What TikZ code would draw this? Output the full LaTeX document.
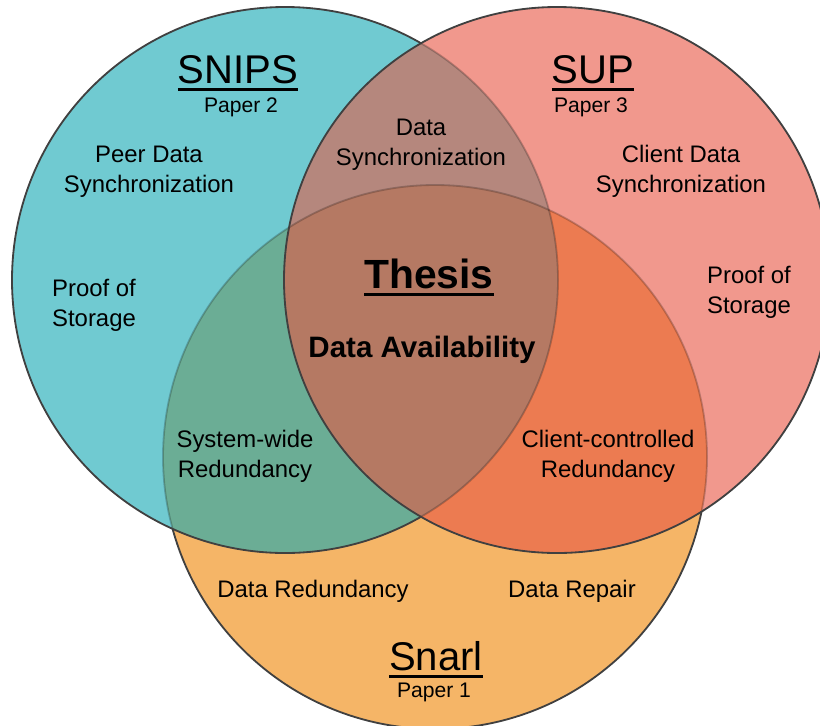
\documentclass[tikz,border=0pt]{standalone}
\usepackage{fontspec}
\setmainfont{Liberation Sans}
\definecolor{snipsc}{HTML}{70CAD1}
\definecolor{supc}{HTML}{F1988D}
\definecolor{snarlc}{HTML}{F5B567}
\definecolor{snipsnarl}{HTML}{6BAD95}
\definecolor{snipsup}{HTML}{B5877D}
\definecolor{supsnarl}{HTML}{EC7B51}
\definecolor{allc}{HTML}{B57963}
\newcommand{\cSnips}{(285,280) circle[radius=273]}
\newcommand{\cSup}{(557,280) circle[radius=273]}
\newcommand{\cSnarl}{(435,457) circle[radius=272]}
\newcommand{\thickul}[1]{\setbox0\hbox{#1}\rlap{\rule[-6pt]{\wd0}{2.8pt}}\box0}
\begin{document}
\begin{tikzpicture}[x=0.025cm,y=-0.025cm,line join=round]
	\tikzset{rim/.style={draw=black!75,line width=1.3pt},
		faint/.style={draw=black,draw opacity=0.22,line width=1.3pt},
		title/.style={font=\fontsize{28.5}{34}\selectfont,anchor=base},
		paper/.style={font=\fontsize{15}{18}\selectfont,anchor=base},
		topic/.style={font=\fontsize{17}{21.3}\selectfont,align=center,anchor=base}}
	\useasboundingbox (0,0) rectangle (820,725);
	% Snarl lies lowest
	\fill[snarlc] \cSnarl;
	\draw[rim] \cSnarl;
	% SNIPS
	\fill[snipsc] \cSnips;
	\begin{scope}
		\clip \cSnips;
		\fill[snipsnarl] \cSnarl;
		\draw[faint] \cSnarl;
	\end{scope}
	\draw[rim] \cSnips;
	% SUP on top
	\fill[supc] \cSup;
	\begin{scope}
		\clip \cSup;
		\fill[supsnarl] \cSnarl;
		\fill[snipsup] \cSnips;
		\begin{scope}
			\clip \cSnips;
			\fill[allc] \cSnarl;
		\end{scope}
		\draw[faint] \cSnarl;
		\draw[faint] \cSnips;
	\end{scope}
	\draw[rim] \cSup;
	% labels (two-line ones sit on their last line)
	\node[title] (snips) at (238,83) {\thickul{SNIPS}};
	\node[paper] (paper2) at (241,112) {Paper 2};
	\node[title] (sup) at (593,83) {\thickul{SUP}};
	\node[paper] (paper3) at (591,112) {Paper 3};
	\node[title] (snarl) at (436,670) {\thickul{Snarl}};
	\node[paper] (paper1) at (434,697) {Paper 1};
	\node[topic] (peer) at (149,192) {Peer Data\\Synchronization};
	\node[topic] (proofl) at (94,326) {Proof of\\Storage};
	\node[topic] (datasync) at (421,165) {Data\\Synchronization};
	\node[topic] (clientsync) at (681,192) {Client Data\\Synchronization};
	\node[topic] (proofr) at (749,313) {Proof of\\Storage};
	\node[topic] (syswide) at (245,477) {System-wide\\Redundancy};
	\node[topic] (clientctrl) at (608,477) {Client-controlled\\Redundancy};
	\node[topic] (redund) at (313,597) {Data Redundancy};
	\node[topic] (repair) at (572,597) {Data Repair};
	\node[anchor=base,font=\fontsize{29}{34}\selectfont\bfseries] (thesis) at (429,288) {\thickul{Thesis}};
	\node[anchor=base,font=\fontsize{21}{25}\selectfont\bfseries] (avail) at (422,357) {Data Availability};
\end{tikzpicture}
\end{document}
